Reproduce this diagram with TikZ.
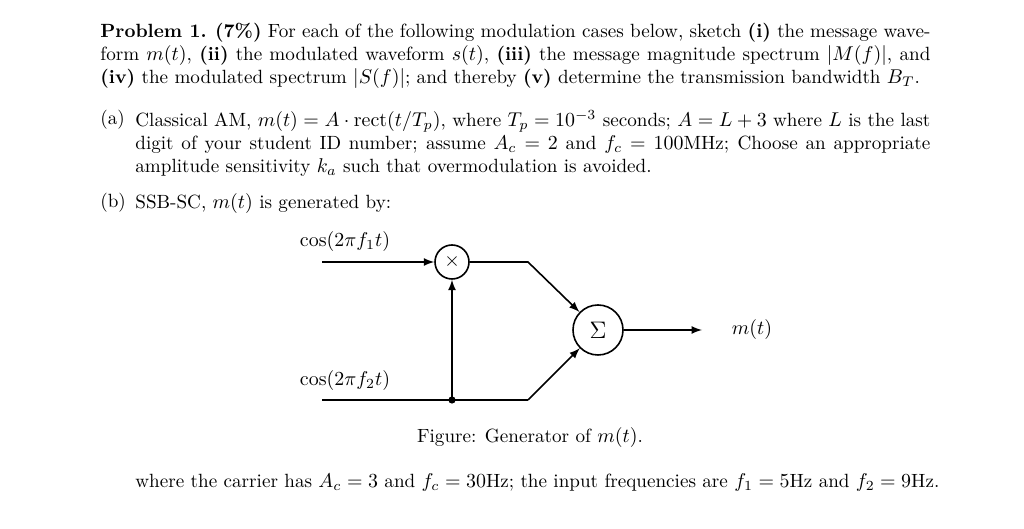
\documentclass[tikz,border=0pt]{standalone}
\usepackage{amsmath}
\usetikzlibrary{positioning}
\begin{document}
\begin{tikzpicture}[
      x=0.5bp,y=-0.5bp,
      every node/.style={inner sep=0pt, font=\fontsize{9.6}{11.5}\selectfont},
      para/.style={anchor=north west, align=justify},
      op/.style={circle,draw,thick,inner sep=0pt},
      sig/.style={thick,-latex}
      ]
      \useasboundingbox (0,0) rectangle (1024,529);
      % problem statement
      \node[para, text width=415bp] (prob) at (100,23) {\textbf{Problem 1.} \textbf{(7\%)} For each of the following modulation cases below, sketch \textbf{(i)} the message wave-\linebreak form $m(t)$, \textbf{(ii)} the modulated waveform $s(t)$, \textbf{(iii)} the message magnitude spectrum $|M(f)|$, and\linebreak \textbf{(iv)} the modulated spectrum $|S(f)|$; and thereby \textbf{(v)} determine the transmission bandwidth $B_T$.};
      \node[anchor=north west] (la) at (100,110) {(a)};
      \node[para, text width=397.5bp] (parta) at (135,110) {Classical AM, $m(t)=A\cdot\mathrm{rect}(t/T_p)$, where $T_p=10^{-3}$ seconds; $A=L+3$ where $L$ is the last\linebreak digit of your student ID number; assume $A_c=2$ and $f_c=100$MHz; Choose an appropriate\linebreak amplitude sensitivity $k_a$ such that overmodulation is avoided.};
      \node[anchor=north west] (lb) at (100,193) {(b)};
      \node[anchor=north west] (partb) at (135,193) {SSB-SC, $m(t)$ is generated by:};
      % generator
      \coordinate (in1) at (322,262);
      \coordinate (in2) at (322,400);
      \node[op, minimum size=17bp] (mul) at (452,262) {$\times$};
      \node[op, minimum size=25bp] (sum) at (598,330) {\large$\Sigma$};
      \coordinate (k1) at (528,262);
      \coordinate (k2) at (528,400);
      \coordinate (dot) at (452,400);
      \coordinate (out) at (702,330);
      \draw[sig] (in1) -- (mul);
      \draw[thick] (in2) -- (k2);
      \fill (dot) circle (1.8bp);
      \draw[sig] (dot) -- (mul);
      \draw[sig] (mul) -- (k1) -- (sum);
      \draw[sig] (k2) -- (sum);
      \draw[sig] (sum) -- (out);
      \node (lbl1) at (345,242) {$\cos(2\pi f_1 t)$};
      \node (lbl2) at (345,381) {$\cos(2\pi f_2 t)$};
      \node (lblm) at (752,330) {$m(t)$};
      \node (cap) at (530,438) {Figure: Generator of $m(t)$.};
      \node[anchor=west] (tail) at (135,483) {where the carrier has $A_c=3$ and $f_c=30$Hz; the input frequencies are $f_1=5$Hz and $f_2=9$Hz.};
    \end{tikzpicture}
\end{document}
